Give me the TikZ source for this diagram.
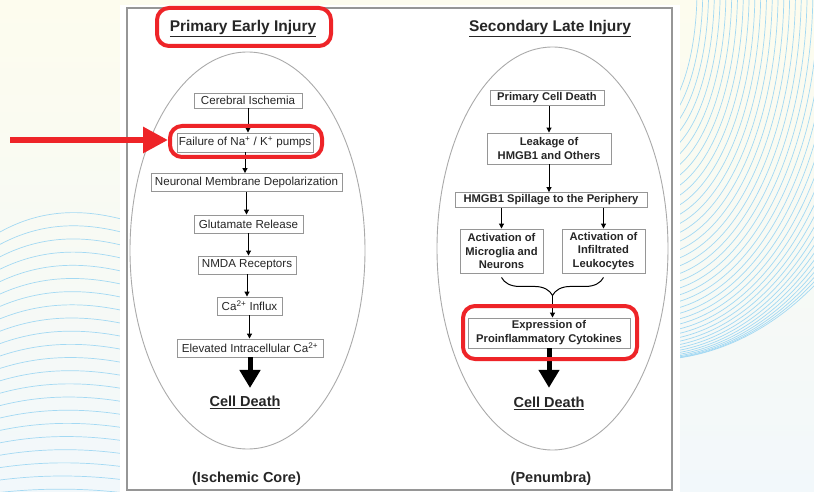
\documentclass[tikz,border=0pt]{standalone}
\usepackage{fontspec}
\setmainfont{Liberation Sans}
\usetikzlibrary{arrows.meta,decorations.pathreplacing,calc}

\definecolor{bgtop}{RGB}{253,252,238}
\definecolor{bgbot}{RGB}{242,248,251}
\definecolor{wavecol}{RGB}{163,217,243}
\definecolor{hlred}{RGB}{238,36,40}
\definecolor{ink}{RGB}{38,38,38}
\definecolor{rim}{RGB}{150,150,150}
\definecolor{ringcol}{RGB}{170,170,170}

\begin{document}
\begin{tikzpicture}[x=1pt,y=-1pt,
  wavy/.style={draw=wavecol, line width=0.7pt},
  ring/.style={draw=ringcol, line width=0.9pt},
  stepbox/.style={draw=rim, line width=0.9pt, fill=white, text=ink, inner sep=0pt,
    align=center, font=\fontsize{11.6}{13.5}\selectfont},
  stepboxb/.style={stepbox, font=\fontsize{11.2}{13.8}\selectfont\bfseries},
  flow/.style={draw=black, line width=1pt, -{Triangle[length=5pt,width=5pt]}},
  bigflow/.style={draw=black, line width=5pt, -{Triangle[length=18pt,width=20pt]}},
  redarrow/.style={draw=hlred, line width=6pt, -{Triangle[length=25pt,width=25pt]}},
  hl/.style={draw=hlred, line width=4pt, rounded corners=12pt, inner sep=0pt},
  heading/.style={font=\fontsize{15.5}{18}\selectfont\bfseries, text=ink, inner sep=1pt},
  foot/.style={font=\fontsize{14.5}{17}\selectfont\bfseries, text=ink, inner sep=1pt},
  bracket/.style={draw=black, line width=1pt, decorate,
    decoration={brace, amplitude=18pt, aspect=0.5}},
]
\useasboundingbox (0,0) rectangle (814,492);

% page background
\fill[top color=bgtop, bottom color=bgbot] (0,0) rectangle (814,492);

% left fan of wave lines
\begin{scope}
  \clip (0,0) rectangle (120,492);
  \foreach \i in {0,...,21}{
    \pgfmathsetmacro\yl{232+12.4*\i}
    \pgfmathsetmacro\yr{220+13*\i}
    \pgfmathsetmacro\ym{(\yl+\yr)/2-(13-0.45*\i)}
    \pgfmathsetmacro\cy{(8*\ym-\yl-\yr)/6}
    \draw[wavy] (0,\yl) .. controls (42,\cy) and (83,\cy) .. (125,\yr);
  }
\end{scope}

% right fan of wave lines
\begin{scope}
  \clip (680,0) rectangle (814,492);
  \foreach \i in {0,...,39}{
    \pgfmathsetmacro\ra{47+226*\i/39}
    \pgfmathsetmacro\rb{130+240*sin(90*\i/39)}
    \draw[wavy] plot[domain=0:90, samples=31, smooth]
      ({650+\ra*cos(\x)},{-10+\rb*sin(\x)});
  }
\end{scope}

% white sheet with its grey frame
\fill[white] (120,5) rectangle (680,492);
\draw[rim, line width=1.2pt] (127,8) rectangle (672,490);

% the two zones
\draw[ring] (247.5,250.5) ellipse [x radius=117.5, y radius=198.5];
\draw[ring] (552.5,248.5) ellipse [x radius=115.5, y radius=201.5];

% headings
\node[heading, anchor=base] (t1) at (243,31.7) {\underline{Primary Early Injury}};
\node[heading, anchor=base] (t2) at (550,31.7) {\underline{Secondary Late Injury}};

% primary cascade
\node[stepbox, minimum width=108, minimum height=15] (L1) at (248,100.5) {Cerebral Ischemia};
\node[stepbox, minimum width=136, minimum height=19] (L2) at (245,142.5) {Failure of Na\textsuperscript{+} / K\textsuperscript{+} pumps};
\node[stepbox, minimum width=191, minimum height=18] (L3) at (246.5,182.5) {Neuronal Membrane Depolarization};
\node[stepbox, minimum width=109, minimum height=18] (L4) at (248.5,224) {Glutamate Release};
\node[stepbox, minimum width=98, minimum height=18] (L5) at (247,265) {NMDA Receptors};
\node[stepbox, minimum width=65, minimum height=18] (L6) at (249.5,306) {Ca\textsuperscript{2+} Influx};
\node[stepbox, minimum width=146, minimum height=18] (L7) at (250,348) {Elevated Intracellular Ca\textsuperscript{2+}};
\node[foot, anchor=base] (L8) at (245,406.7) {\underline{Cell Death}};
\node[foot, anchor=base] (L9) at (246.5,482.5) {(Ischemic Core)};

\foreach \a/\b in {L1/L2,L2/L3,L3/L4,L4/L5,L5/L6,L6/L7}
  \draw[flow] (\a.south) -- (\a.south |- \b.north);
\draw[bigflow, shorten >=7pt] (L7.south) -- (L7.south |- L8.north);

% secondary cascade
\node[stepboxb, minimum width=114, minimum height=15] (R1) at (547,98) {Primary Cell Death};
\node[stepboxb, minimum width=124, minimum height=31] (R2) at (549,148.5) {Leakage of\\HMGB1 and Others};
\node[stepboxb, minimum width=192, minimum height=15] (R3) at (551,200) {HMGB1 Spillage to the Periphery};
\node[stepboxb, minimum width=83, minimum height=44] (R4) at (501.5,251) {Activation of\\Microglia and\\Neurons};
\node[stepboxb, minimum width=83, minimum height=44] (R5) at (603.5,251) {Activation of\\Infiltrated\\Leukocytes};
\node[stepboxb, minimum width=162, minimum height=30] (R6) at (549,333) {Expression of\\Proinflammatory Cytokines};
\node[foot, anchor=base] (R7) at (549,407.5) {\underline{Cell Death}};
\node[foot, anchor=base] (R8) at (551,482.3) {(Penumbra)};

\draw[flow] (R2.north |- R1.south) -- (R2.north);
\draw[flow] (R2.south) -- (R2.south |- R3.north);
\draw[flow] (R4.north |- R3.south) -- (R4.north);
\draw[flow] (R5.north |- R3.south) -- (R5.north);
\draw[bracket] ($(R5.south)+(0,4)$) -- ($(R4.south)+(0,4)$);
\coordinate (brtip) at ($(R4.south)!0.5!(R5.south)+(0,22)$);
\draw[flow] (brtip) -- (brtip |- R6.north);
\draw[bigflow, shorten >=8pt] (R6.south) -- (R6.south |- R7.north);

% red highlights
\node[hl, minimum width=174, minimum height=38] (hlA) at (244,27) {};
\node[hl, minimum width=152, minimum height=31] (hlB) at (246,141.5) {};
\node[hl, minimum width=174, minimum height=53] (hlC) at (550,332.5) {};
\coordinate (rstart) at (10,140);
\draw[redarrow] (rstart) -- (rstart -| hlB.west);
\end{tikzpicture}
\end{document}
